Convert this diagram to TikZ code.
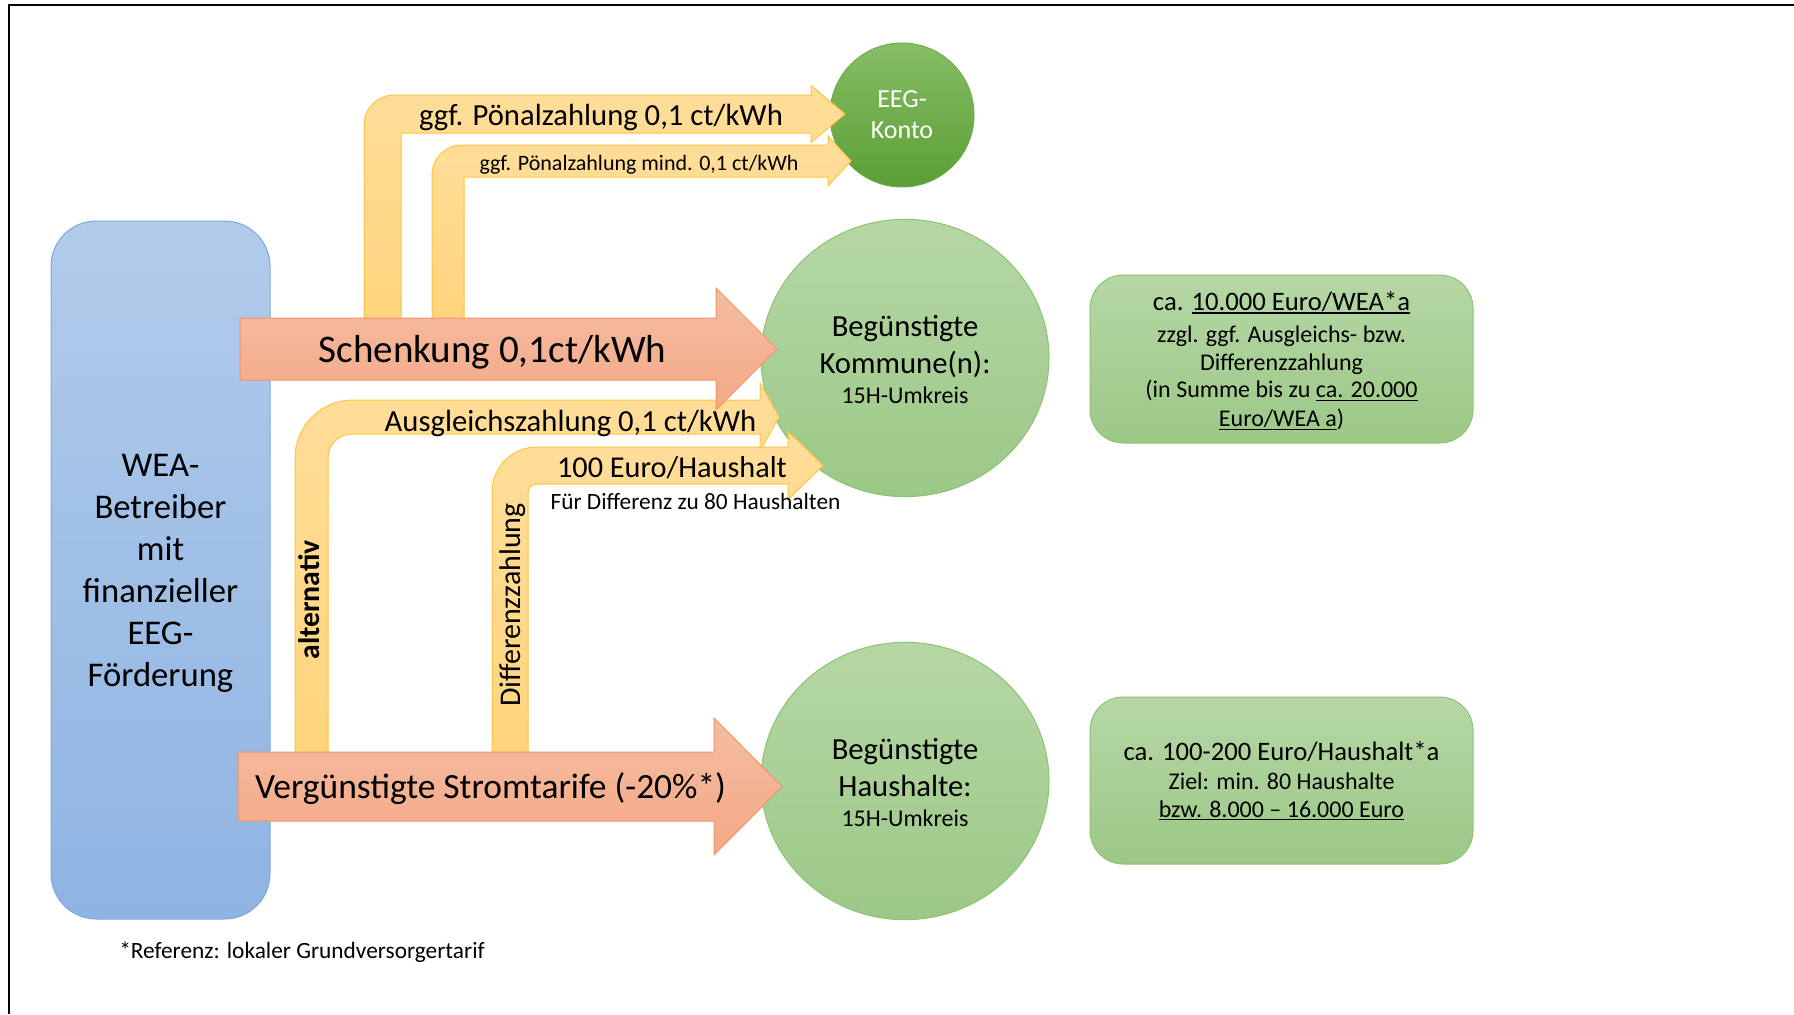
\documentclass[tikz,border=0pt]{standalone}
\usepackage{fontspec}
\setmainfont{Carlito}
\usetikzlibrary{shapes.geometric}
\definecolor{blueT}{HTML}{B1CBEA}
\definecolor{blueB}{HTML}{8FB4E3}
\definecolor{blueD}{HTML}{7EA9DC}
\definecolor{redT}{HTML}{F6BCA2}
\definecolor{redB}{HTML}{F3A986}
\definecolor{redD}{HTML}{EE9666}
\definecolor{ylwT}{HTML}{FFDE9A}
\definecolor{ylwB}{HTML}{FFD47C}
\definecolor{ylwD}{HTML}{FFC53D}
\definecolor{grnT}{HTML}{B5D7A5}
\definecolor{grnB}{HTML}{9CC887}
\definecolor{grnD}{HTML}{8FC273}
\definecolor{eegT}{HTML}{86BE66}
\definecolor{eegB}{HTML}{5C9E35}
\definecolor{eegD}{HTML}{6FAD4B}
\newcommand\fsz[1]{\fontsize{#1}{#1}\selectfont}
\newcommand\myul[1]{\setbox0=\hbox{#1}\rlap{\rule[-0.14em]{\wd0}{0.055em}}\box0}
\tikzset{
  yarrow/.style={draw=ylwD, line width=0.75pt, top color=ylwT, bottom color=ylwB},
  rarrow/.style={draw=redD, line width=0.75pt, top color=redT, bottom color=redB},
  gshape/.style={draw=grnD, line width=0.75pt, top color=grnT, bottom color=grnB, inner sep=0pt},
  lbl/.style={anchor=base, inner sep=0pt, text=black},
  frameline/.style={line width=1.6pt, black},
}
\begin{document}
\begin{tikzpicture}[x=0.75pt,y=-0.75pt]
\useasboundingbox (0,0) rectangle (1794,1014);
% frame
\coordinate (fbl) at (9,1014);
\coordinate (ftl) at (9,5);
\coordinate (ftr) at (1794,5);
\draw[frameline] (fbl) -- (ftl) -- (ftr);
% operator box
\node[draw=blueD, line width=0.75pt, top color=blueT, bottom color=blueB, rounded corners=34pt,
      minimum width=164.25pt, minimum height=523.5pt, inner sep=0pt] (wea) at (160.5,570) {};
% circles
\node[ellipse, gshape, minimum width=216pt, minimum height=208pt] (kommune) at (905,358) {};
\node[ellipse, gshape, minimum width=216pt, minimum height=208pt] (haushalte) at (905,781) {};
\node[circle, draw=eegD, line width=0.75pt, top color=eegT, bottom color=eegB, minimum size=108pt, inner sep=0pt] (eeg) at (902,115) {};
% info boxes
\node[gshape, rounded corners=25pt, minimum width=287.25pt, minimum height=126pt] (info1) at (1281.5,359) {};
\node[gshape, rounded corners=25pt, minimum width=287.25pt, minimum height=125.25pt] (info2) at (1281.5,780.5) {};
% yellow bent arrows
\path[yarrow] (364,322) -- (364,125) .. controls (364,108.4) and (377.4,95) .. (394,95)
  -- (811,95) -- (811,85.5) -- (845,114) -- (811,142.5) -- (811,133) -- (401,133) -- (401,322) -- cycle;
\path[yarrow] (432,322) -- (432,175) .. controls (432,158.4) and (445.4,145) .. (462,145)
  -- (828,145) -- (828,136) -- (851,161) -- (828,186) -- (828,177) -- (464,177) -- (464,322) -- cycle;
\path[yarrow] (295,756) -- (295,458) .. controls (295,426) and (321,400) .. (353,400)
  -- (760,400) -- (760,383) -- (779,417) -- (760,451) -- (760,434) -- (352,434)
  .. controls (338.7,434) and (328,444.7) .. (328,458) -- (328,756) -- cycle;
\path[yarrow] (492,756) -- (492,492) .. controls (492,467.15) and (512.15,447) .. (537,447)
  -- (788,447) -- (788,431.5) -- (823,465.5) -- (788,499.5) -- (788,484) -- (537,484)
  .. controls (532,484) and (528,488) .. (528,493) -- (528,756) -- cycle;
% red arrows
\path[rarrow] (240,318) -- (716,318) -- (716,288) -- (777,349) -- (716,410) -- (716,380) -- (240,380) -- cycle;
\path[rarrow] (238,752) -- (714,752) -- (714,718) -- (782,786.5) -- (714,855) -- (714,821) -- (238,821) -- cycle;
% arrow labels
\node[lbl, font=\fsz{23}] (tA) at (601,125) {ggf. Pönalzahlung 0,1 ct/kWh};
\node[lbl, font=\fsz{16.5}] (tB) at (639,170) {ggf. Pönalzahlung mind. 0,1 ct/kWh};
\node[lbl, font=\fsz{29.3}] (tS) at (492.5,362) {Schenkung 0,1ct/kWh};
\node[lbl, font=\fsz{23}] (tC) at (570.5,431) {Ausgleichszahlung 0,1 ct/kWh};
\node[lbl, font=\fsz{22.7}] (tD) at (672,477) {100 Euro/Haushalt};
\node[lbl, font=\fsz{17.5}] (tF) at (695.5,509) {Für Differenz zu 80 Haushalten};
\node[lbl, font=\fsz{26.6}] (tV) at (490.5,798) {Vergünstigte Stromtarife (-20\%*)};
\node[lbl, font=\bfseries\fsz{22.3}, rotate=90] (tAlt) at (319,600) {alternativ};
\node[lbl, font=\fsz{22.5}, rotate=90] (tDiff) at (520,605) {Differenzzahlung};
% operator text
\node[lbl, font=\fsz{26}] (w1) at (160.5,476) {WEA-};
\node[lbl, font=\fsz{26}] (w2) at (160.5,518) {Betreiber};
\node[lbl, font=\fsz{26}] (w3) at (160.5,560) {mit};
\node[lbl, font=\fsz{26}] (w4) at (160.5,602) {finanzieller};
\node[lbl, font=\fsz{26}] (w5) at (160.5,644) {EEG-};
\node[lbl, font=\fsz{26}] (w6) at (160.5,686) {Förderung};
% EEG text
\node[lbl, text=white, font=\fsz{19.5}] (e1) at (902,107) {EEG-};
\node[lbl, text=white, font=\fsz{19.5}] (e2) at (902,138) {Konto};
% Kommune text
\node[lbl, font=\fsz{23}] (k1) at (905,336) {Begünstigte};
\node[lbl, font=\fsz{23}] (k2) at (905,373) {Kommune(n):};
\node[lbl, font=\fsz{18}] (k3) at (905,403) {15H-Umkreis};
% Haushalte text
\node[lbl, font=\fsz{23}] (h1) at (905,759) {Begünstigte};
\node[lbl, font=\fsz{23}] (h2) at (905,796) {Haushalte:};
\node[lbl, font=\fsz{18}] (h3) at (905,826) {15H-Umkreis};
% info box 1 text
\node[lbl, font=\fsz{20}] (i11) at (1281.5,310) {ca. \myul{10.000 Euro/WEA*a}};
\node[lbl, font=\fsz{18}] (i12) at (1281.5,342.7) {zzgl. ggf. Ausgleichs- bzw.};
\node[lbl, font=\fsz{18}] (i13) at (1281.5,370) {Differenzzahlung};
\node[lbl, font=\fsz{18}] (i14) at (1281.5,397.7) {(in Summe bis zu \myul{ca. 20.000}};
\node[lbl, font=\fsz{18}] (i15) at (1281.5,426.7) {\myul{Euro/WEA a})};
% info box 2 text
\node[lbl, font=\fsz{20}] (i21) at (1281.5,760) {ca. 100-200 Euro/Haushalt*a};
\node[lbl, font=\fsz{18}] (i22) at (1281.5,789) {Ziel: min. 80 Haushalte};
\node[lbl, font=\fsz{18}] (i23) at (1281.5,817) {\myul{bzw. 8.000 – 16.000 Euro}};
% footnote
\node[lbl, anchor=base west, font=\fsz{17.5}] (fn) at (119,958) {*Referenz: lokaler Grundversorgertarif};
\end{tikzpicture}
\end{document}
